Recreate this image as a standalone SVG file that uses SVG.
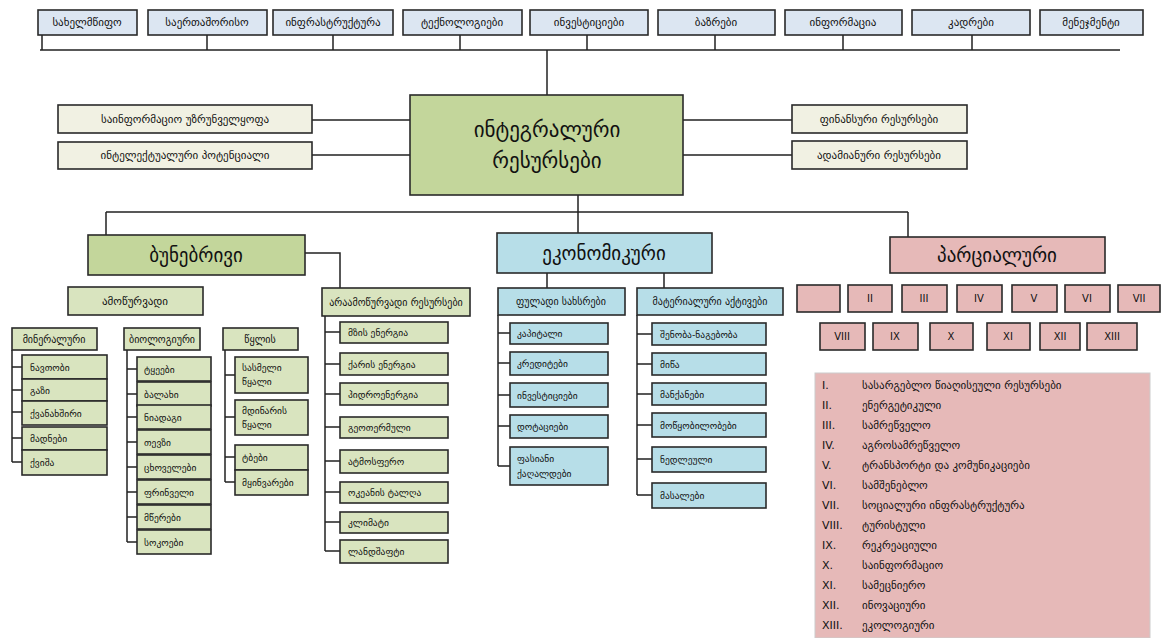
<svg xmlns="http://www.w3.org/2000/svg" width="1166" height="638" viewBox="0 0 1166 638">
<style>
text{font-family:"DejaVu Sans","Noto Sans",sans-serif;fill:#111}
.bx{stroke:#2a2a2a;stroke-width:1.6}
.tp{fill:#dce6f2}
.cr{fill:#f1f1e3}
.gr{fill:#c3d69b}
.lg{fill:#d9e4bf}
.bl{fill:#b7dee8}
.pk{fill:#e6b9b8}
.s9{font-size:9.5px}
.s10{font-size:10px}
.s11{font-size:11px}
.s18{font-size:19px}
.s20{font-size:21px}
.m{text-anchor:middle}
#connectors path{fill:none;stroke:#222;stroke-width:1.5}
</style>
<rect width="1166" height="638" fill="#fff"/>
<g id="connectors">
<path d="M42 35V50M333 35V50M460 35V50M587 35V50M715 35V50M843 35V50M972 35V50M40 50H1120M207 35V50"/>
<path d="M547 50V95"/>
<path d="M312 120H410M312 155H410M683 120H792M683 155H792"/>
<path d="M578 195V212M106 212H908M106 212V235M578 212V233M908 212V237"/>
<path d="M305 253H340V288"/>
<path d="M12 350V462M12 367H22M12 390H22M12 412H22M12 438H22M12 462H22"/>
<path d="M127 350V542M127 369H137M127 394H137M127 417H137M127 442H137M127 467H137M127 492H137M127 517H137M127 542H137"/>
<path d="M225 350V482M225 375H235M225 417H235M225 457H235M225 482H235"/>
<path d="M325 316V551M325 332H340M325 364H340M325 394H340M325 427H340M325 461H340M325 492H340M325 522H340M325 551H340"/>
<path d="M547 273V288M664 273V288"/>
<path d="M498 315V466M498 333H510M498 363H510M498 395H510M498 426H510M498 466H510"/>
<path d="M637 315V495M637 334H652M637 364H652M637 394H652M637 425H652M637 459H652M637 495H652"/>
</g>
<g id="top-1"><rect class="bx tp" x="38" y="10" width="99" height="25"/><text class="s11 m" x="87" y="26">სახელმწიფო</text></g>
<g id="top-2"><rect class="bx tp" x="148" y="10" width="119" height="25"/><text class="s11 m" x="207" y="26">საერთაშორისო</text></g>
<g id="top-3"><rect class="bx tp" x="273" y="10" width="120" height="25"/><text class="s11 m" x="333" y="26">ინფრასტრუქტურა</text></g>
<g id="top-4"><rect class="bx tp" x="403" y="10" width="119" height="25"/><text class="s11 m" x="462" y="26">ტექნოლოგიები</text></g>
<g id="top-5"><rect class="bx tp" x="530" y="10" width="118" height="25"/><text class="s11 m" x="589" y="26">ინვესტიციები</text></g>
<g id="top-6"><rect class="bx tp" x="658" y="10" width="117" height="25"/><text class="s11 m" x="716" y="26">ბაზრები</text></g>
<g id="top-7"><rect class="bx tp" x="785" y="10" width="117" height="25"/><text class="s11 m" x="843" y="26">ინფორმაცია</text></g>
<g id="top-8"><rect class="bx tp" x="912" y="10" width="118" height="25"/><text class="s11 m" x="971" y="26">კადრები</text></g>
<g id="top-9"><rect class="bx tp" x="1040" y="10" width="103" height="25"/><text class="s11 m" x="1091" y="26">მენეჯმენტი</text></g>
<g id="main"><rect class="bx gr" x="410" y="95" width="273" height="100" stroke-width="2"/><text class="s20 m" x="547" y="137">ინტეგრალური</text><text class="s20 m" x="547" y="168">რესურსები</text></g>
<g id="left-1"><rect class="bx cr" x="58" y="105" width="254" height="28"/><text class="s11 m" x="185" y="123">საინფორმაციო უზრუნველყოფა</text></g>
<g id="left-2"><rect class="bx cr" x="58" y="142" width="254" height="27"/><text class="s11 m" x="185" y="159">ინტელექტუალური პოტენციალი</text></g>
<g id="right-1"><rect class="bx cr" x="792" y="105" width="175" height="28"/><text class="s11 m" x="879" y="123">ფინანსური რესურსები</text></g>
<g id="right-2"><rect class="bx cr" x="792" y="141" width="175" height="28"/><text class="s11 m" x="879" y="159">ადამიანური რესურსები</text></g>
<g id="natural"><rect class="bx gr" x="88" y="235" width="217" height="40" stroke-width="2"/><text class="s18 m" x="196" y="262">ბუნებრივი</text></g>
<g id="economic"><rect class="bx bl" x="497" y="233" width="215" height="40" stroke-width="2"/><text class="s18 m" x="604" y="260">ეკონომიკური</text></g>
<g id="partial"><rect class="bx pk" x="890" y="237" width="215" height="36"/><text class="s18 m" x="997" y="262">პარციალური</text></g>
<g id="nat-sub-1"><rect class="bx lg" x="68" y="287" width="135" height="28"/><text class="s11 m" x="135" y="305">ამოწურვადი</text></g>
<g id="nat-sub-2"><rect class="bx lg" x="322" y="288" width="148" height="28"/><text class="s10 m" x="396" y="306">არაამოწურვადი რესურსები</text></g>
<g id="grp-1"><rect class="bx lg" x="12" y="328" width="85" height="22"/><text class="s10 m" x="54" y="343">მინერალური</text></g>
<g id="grp-2"><rect class="bx lg" x="124" y="328" width="76" height="22"/><text class="s10 m" x="162" y="343">ბიოლოგიური</text></g>
<g id="grp-3"><rect class="bx lg" x="223" y="328" width="75" height="22"/><text class="s10 m" x="260" y="343">წყლის</text></g>
<g id="c1-1"><rect class="bx lg" x="22" y="355" width="85" height="24"/><text class="s9" x="30" y="371">ნავთობი</text></g>
<g id="c1-2"><rect class="bx lg" x="22" y="379" width="85" height="22"/><text class="s9" x="30" y="394">გაზი</text></g>
<g id="c1-3"><rect class="bx lg" x="22" y="401" width="85" height="24"/><text class="s9" x="30" y="417">ქვანახშირი</text></g>
<g id="c1-4"><rect class="bx lg" x="22" y="427" width="85" height="23"/><text class="s9" x="30" y="442">მადნები</text></g>
<g id="c1-5"><rect class="bx lg" x="22" y="450" width="85" height="25"/><text class="s9" x="30" y="466">ქვიშა</text></g>
<g id="c2-1"><rect class="bx lg" x="137" y="357" width="74" height="24"/><text class="s9" x="144" y="373">ტყეები</text></g>
<g id="c2-2"><rect class="bx lg" x="137" y="382" width="74" height="24"/><text class="s9" x="144" y="398">ბალახი</text></g>
<g id="c2-3"><rect class="bx lg" x="137" y="405" width="74" height="24"/><text class="s9" x="144" y="421">ნიადაგი</text></g>
<g id="c2-4"><rect class="bx lg" x="137" y="430" width="74" height="24"/><text class="s9" x="144" y="446">თევზი</text></g>
<g id="c2-5"><rect class="bx lg" x="137" y="455" width="74" height="24"/><text class="s9" x="144" y="471">ცხოველები</text></g>
<g id="c2-6"><rect class="bx lg" x="137" y="480" width="74" height="24"/><text class="s9" x="144" y="496">ფრინველი</text></g>
<g id="c2-7"><rect class="bx lg" x="137" y="505" width="74" height="24"/><text class="s9" x="144" y="521">მწერები</text></g>
<g id="c2-8"><rect class="bx lg" x="137" y="530" width="74" height="24"/><text class="s9" x="144" y="546">სოკოები</text></g>
<g id="c3-1"><rect class="bx lg" x="235" y="357" width="73" height="36"/><text class="s9" x="242" y="371">სასმელი</text><text class="s9" x="242" y="385">წყალი</text></g>
<g id="c3-2"><rect class="bx lg" x="235" y="400" width="73" height="35"/><text class="s9" x="242" y="414">მდინარის</text><text class="s9" x="242" y="428">წყალი</text></g>
<g id="c3-3"><rect class="bx lg" x="235" y="445" width="73" height="25"/><text class="s9" x="242" y="461">ტბები</text></g>
<g id="c3-4"><rect class="bx lg" x="235" y="470" width="73" height="25"/><text class="s9" x="242" y="486">მყინვარები</text></g>
<g id="r1"><rect class="bx lg" x="340" y="322" width="108" height="21"/><text class="s9" x="348" y="336">მზის ენერგია</text></g>
<g id="r2"><rect class="bx lg" x="340" y="353" width="108" height="22"/><text class="s9" x="348" y="368">ქარის ენერგია</text></g>
<g id="r3"><rect class="bx lg" x="340" y="383" width="108" height="22"/><text class="s9" x="348" y="398">ჰიდროენერგია</text></g>
<g id="r4"><rect class="bx lg" x="340" y="417" width="108" height="21"/><text class="s9" x="348" y="431">გეოთერმული</text></g>
<g id="r5"><rect class="bx lg" x="340" y="450" width="108" height="23"/><text class="s9" x="348" y="465">ატმოსფერო</text></g>
<g id="r6"><rect class="bx lg" x="340" y="482" width="108" height="21"/><text class="s9" x="348" y="496">ოკეანის ტალღა</text></g>
<g id="r7"><rect class="bx lg" x="340" y="512" width="108" height="21"/><text class="s9" x="348" y="526">კლიმატი</text></g>
<g id="r8"><rect class="bx lg" x="340" y="540" width="108" height="23"/><text class="s9" x="348" y="555">ლანდშაფტი</text></g>
<g id="eco-sub-1"><rect class="bx bl" x="498" y="288" width="127" height="27"/><text class="s10 m" x="561" y="305">ფულადი სახსრები</text></g>
<g id="eco-sub-2"><rect class="bx bl" x="637" y="288" width="146" height="27"/><text class="s10 m" x="710" y="305">მატერიალური აქტივები</text></g>
<g id="e1"><rect class="bx bl" x="510" y="323" width="98" height="21"/><text class="s9" x="517" y="337">კაპიტალი</text></g>
<g id="e2"><rect class="bx bl" x="510" y="352" width="98" height="23"/><text class="s9" x="517" y="367">კრედიტები</text></g>
<g id="e3"><rect class="bx bl" x="510" y="383" width="98" height="24"/><text class="s9" x="517" y="399">ინვესტიციები</text></g>
<g id="e4"><rect class="bx bl" x="510" y="415" width="98" height="23"/><text class="s9" x="517" y="430">დოტაციები</text></g>
<g id="e5"><rect class="bx bl" x="510" y="447" width="98" height="38"/><text class="s9" x="517" y="462">ფასიანი</text><text class="s9" x="517" y="477">ქაღალდები</text></g>
<g id="f1"><rect class="bx bl" x="652" y="323" width="114" height="22"/><text class="s9" x="660" y="338">შენობა-ნაგებობა</text></g>
<g id="f2"><rect class="bx bl" x="652" y="353" width="114" height="22"/><text class="s9" x="660" y="368">მიწა</text></g>
<g id="f3"><rect class="bx bl" x="652" y="383" width="114" height="22"/><text class="s9" x="660" y="398">მანქანები</text></g>
<g id="f4"><rect class="bx bl" x="652" y="413" width="114" height="24"/><text class="s9" x="660" y="429">მოწყობილობები</text></g>
<g id="f5"><rect class="bx bl" x="652" y="447" width="114" height="25"/><text class="s9" x="660" y="463">ნედლეული</text></g>
<g id="f6"><rect class="bx bl" x="652" y="483" width="114" height="25"/><text class="s9" x="660" y="499">მასალები</text></g>
<g id="p1"><rect class="bx pk" x="797" y="285" width="43" height="27"/></g>
<g id="p2"><rect class="bx pk" x="848" y="285" width="44" height="27"/><text class="s10 m" x="870" y="302">II</text></g>
<g id="p3"><rect class="bx pk" x="902" y="285" width="45" height="27"/><text class="s10 m" x="924" y="302">III</text></g>
<g id="p4"><rect class="bx pk" x="957" y="285" width="45" height="27"/><text class="s10 m" x="979" y="302">IV</text></g>
<g id="p5"><rect class="bx pk" x="1012" y="285" width="45" height="27"/><text class="s10 m" x="1034" y="302">V</text></g>
<g id="p6"><rect class="bx pk" x="1065" y="285" width="45" height="27"/><text class="s10 m" x="1087" y="302">VI</text></g>
<g id="p7"><rect class="bx pk" x="1118" y="285" width="42" height="27"/><text class="s10 m" x="1139" y="302">VII</text></g>
<g id="p8"><rect class="bx pk" x="820" y="323" width="45" height="27"/><text class="s10 m" x="842" y="340">VIII</text></g>
<g id="p9"><rect class="bx pk" x="873" y="323" width="45" height="27"/><text class="s10 m" x="895" y="340">IX</text></g>
<g id="p10"><rect class="bx pk" x="930" y="323" width="43" height="27"/><text class="s10 m" x="951" y="340">X</text></g>
<g id="p11"><rect class="bx pk" x="987" y="323" width="43" height="27"/><text class="s10 m" x="1008" y="340">XI</text></g>
<g id="p12"><rect class="bx pk" x="1040" y="323" width="40" height="27"/><text class="s10 m" x="1060" y="340">XII</text></g>
<g id="p13"><rect class="bx pk" x="1087" y="323" width="50" height="27"/><text class="s10 m" x="1112" y="340">XIII</text></g>
<g id="legend"><rect class="pk" x="815" y="373" width="335" height="265" stroke="#ccc"/>
<g class="s11">
<text x="822" y="389">I.</text><text x="862" y="389">სასარგებლო წიაღისეული რესურსები</text>
<text x="822" y="409">II.</text><text x="862" y="409">ენერგეტიკული</text>
<text x="822" y="429">III.</text><text x="862" y="429">სამრეწველო</text>
<text x="822" y="449">IV.</text><text x="862" y="449">აგროსამრეწველო</text>
<text x="822" y="469">V.</text><text x="862" y="469">ტრანსპორტი და კომუნიკაციები</text>
<text x="822" y="489">VI.</text><text x="862" y="489">სამშენებლო</text>
<text x="822" y="509">VII.</text><text x="862" y="509">სოციალური ინფრასტრუქტურა</text>
<text x="822" y="529">VIII.</text><text x="862" y="529">ტურისტული</text>
<text x="822" y="549">IX.</text><text x="862" y="549">რეკრეაციული</text>
<text x="822" y="569">X.</text><text x="862" y="569">საინფორმაციო</text>
<text x="822" y="589">XI.</text><text x="862" y="589">სამეცნიერო</text>
<text x="822" y="609">XII.</text><text x="862" y="609">ინოვაციური</text>
<text x="822" y="629">XIII.</text><text x="862" y="629">ეკოლოგიური</text>
</g></g>
</svg>
